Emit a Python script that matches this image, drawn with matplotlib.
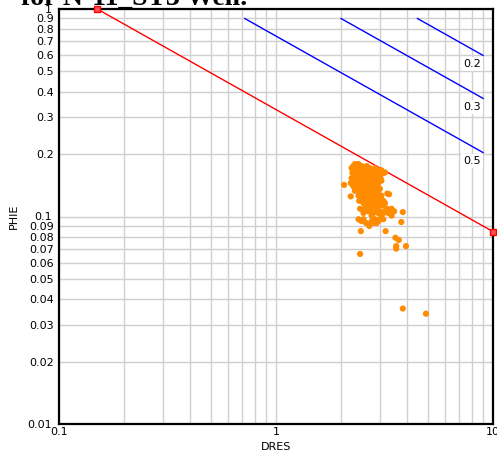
import numpy as np
import matplotlib
matplotlib.use("Agg")
import matplotlib.pyplot as plt
from matplotlib.ticker import LogLocator, FuncFormatter, NullFormatter

# Pickett plot parameters
a = 1.0
rw = 0.15
m = 1.7
n = 2.0
sw_values = [0.2, 0.3, 0.5]
sw_labels = ["0.2", "0.3", "0.5"]
sw_phi_top = 0.9
sw_rt_end = 9.0
rw_rt = [0.15, 10.0]

# well data
dres = [2.31, 2.40,
        2.27, 2.48, 2.62,
        2.23, 2.35, 2.53, 2.71, 2.86,
        2.29, 2.42, 2.57, 2.66, 2.79, 2.96, 3.06,
        2.25, 2.35, 2.48, 2.62, 2.76, 2.91, 3.12,
        2.31, 2.44, 2.55, 2.69, 2.83, 2.99,
        2.23, 2.40, 2.51, 2.64, 2.76, 2.89, 3.03,
        2.29, 2.44, 2.57, 2.71, 2.86, 3.06,
        2.21, 2.33, 2.48, 2.62, 2.79, 2.96,
        2.27, 2.42, 2.55, 2.69, 2.91,
        2.35, 2.48, 2.64, 2.79, 3.01,
        2.31, 2.53, 2.71, 2.86, 2.96,
        2.44, 2.60, 2.76, 2.93, 3.26,
        2.40, 2.53, 2.69, 2.86, 3.06,
        2.48, 2.64, 2.79, 2.99,
        2.42, 2.57, 2.73, 2.91, 3.12,
        2.53, 2.69, 2.86, 3.01, 3.18,
        2.62, 2.79, 2.96, 3.10,
        2.44, 2.57, 2.73, 2.91, 3.24, 3.41,
        2.66, 3.01, 3.18, 3.35, 3.50,
        2.53, 2.81, 2.96, 3.12, 3.29,
        2.76, 3.06, 3.41,
        2.40, 2.53, 2.86, 3.01, 3.12,
        2.48, 2.76, 2.96,
        2.60, 2.83, 2.91,
        2.69,
        2.06, 2.21, 2.46, 2.44, 3.20, 3.55, 3.68, 3.58, 3.58, 3.97,
        3.84, 3.78, 3.32, 3.18, 3.84, 4.91]
phie = [0.179, 0.179,
        0.175, 0.175, 0.175,
        0.171, 0.171, 0.171, 0.171, 0.171,
        0.167, 0.167, 0.167, 0.167, 0.167, 0.167, 0.167,
        0.162, 0.162, 0.162, 0.162, 0.162, 0.162, 0.162,
        0.157, 0.157, 0.157, 0.157, 0.157, 0.157,
        0.153, 0.153, 0.153, 0.153, 0.153, 0.153, 0.153,
        0.149, 0.149, 0.149, 0.149, 0.149, 0.149,
        0.145, 0.145, 0.145, 0.145, 0.145, 0.145,
        0.140, 0.140, 0.140, 0.140, 0.140,
        0.136, 0.136, 0.136, 0.136, 0.136,
        0.133, 0.133, 0.133, 0.133, 0.133,
        0.129, 0.129, 0.129, 0.129, 0.129,
        0.126, 0.126, 0.126, 0.126, 0.126,
        0.122, 0.122, 0.122, 0.122,
        0.119, 0.119, 0.119, 0.119, 0.119,
        0.116, 0.116, 0.116, 0.116, 0.116,
        0.113, 0.113, 0.113, 0.113,
        0.109, 0.109, 0.109, 0.109, 0.109, 0.109,
        0.106, 0.106, 0.106, 0.106, 0.106,
        0.104, 0.104, 0.104, 0.104, 0.104,
        0.101, 0.101, 0.101,
        0.097, 0.097, 0.097, 0.097, 0.097,
        0.095, 0.095, 0.095,
        0.093, 0.093, 0.093,
        0.090,
        0.142, 0.125, 0.085, 0.066, 0.085, 0.079, 0.077, 0.072, 0.070, 0.072,
        0.105, 0.094, 0.128, 0.163, 0.036, 0.034]

fig = plt.figure(figsize=(4.97, 4.51), dpi=100)
ax = fig.add_axes([59 / 497, 1 - 424 / 451, 434 / 497, 415 / 451])

ax.set_xscale("log")
ax.set_yscale("log")
ax.set_xlim(0.1, 10)
ax.set_ylim(0.01, 1)

# water line (Sw = 1)
rt = np.array(rw_rt)
phi_rw = (a * rw / rt) ** (1 / m)
ax.plot(rt, phi_rw, color="red", lw=1, marker="s", ms=5,
        mfc="#ff5050", mec="red", clip_on=False, zorder=4)

# Sw lines
for sw, lab in zip(sw_values, sw_labels):
    rt0 = a * rw / (sw ** n * sw_phi_top ** m)
    rts = np.array([rt0, sw_rt_end])
    phis = (a * rw / (rts * sw ** n)) ** (1 / m)
    ax.plot(rts, phis, color="blue", lw=1, zorder=3)
    ax.text(rts[-1] * 0.98, phis[-1] * 0.96, lab, ha="right", va="top",
            fontsize=8, bbox=dict(facecolor="white", edgecolor="none", pad=1.5),
            zorder=5)

ax.scatter(dres, phie, s=20, color="darkorange", edgecolors="none", zorder=4)

# grid and ticks
ax.xaxis.set_major_locator(LogLocator(base=10, numticks=10))
ax.xaxis.set_minor_locator(LogLocator(base=10, subs=np.arange(2, 10), numticks=10))
ax.xaxis.set_minor_formatter(NullFormatter())
ax.xaxis.set_major_formatter(FuncFormatter(lambda v, p: f"{v:g}"))
ax.yaxis.set_major_locator(LogLocator(base=10, numticks=10))
ax.yaxis.set_minor_locator(LogLocator(base=10, subs=np.arange(2, 10), numticks=10))
ax.yaxis.set_major_formatter(FuncFormatter(lambda v, p: f"{v:g}"))
ax.yaxis.set_minor_formatter(FuncFormatter(lambda v, p: f"{v:g}"))

ax.grid(True, which="both", color="#d0d0d0", lw=1)
ax.set_axisbelow(True)
ax.tick_params(which="both", length=0, labelsize=8)
ax.tick_params(axis="x", pad=2)
ax.tick_params(axis="y", pad=5)
for sp in ax.spines.values():
    sp.set_linewidth(1.6)
    sp.set_color("black")

ax.set_xlabel("DRES", fontsize=8, labelpad=4)
ax.set_ylabel("PHIE", fontsize=8, labelpad=6)

fig.text(247 / 497, 1 - 5 / 451, "for N-11_ST3 Well.", ha="right", va="baseline",
         fontsize=20, fontweight="bold", family="Liberation Serif")

fig.savefig("out.png", dpi=100)
